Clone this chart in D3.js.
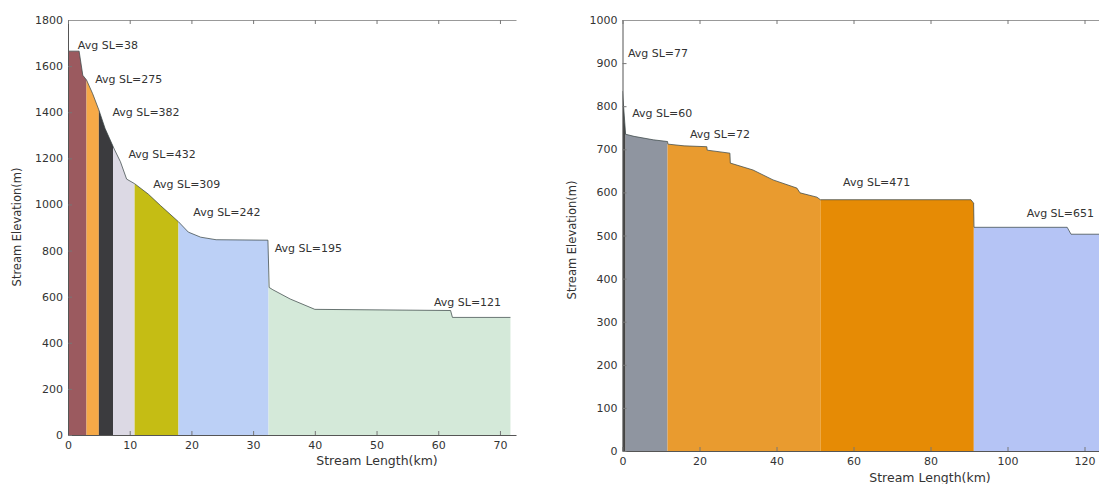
<!DOCTYPE html>
<html>
<head>
<meta charset="utf-8">
<script src="https://cdn.jsdelivr.net/npm/d3@7/dist/d3.min.js"></script>
<style>
  html, body { margin: 0; padding: 0; background: #ffffff; }
  svg { display: block; }
  text { font-family: "DejaVu Sans", "Liberation Sans", sans-serif; fill: #333; }
</style>
</head>
<body>
<svg id="chart" width="1099" height="484"></svg>
<script>
// ---------------- DATA ----------------
// Left panel: stream profile (distance km, elevation m)
const leftDist = [0, 1.8, 2.4, 3.0, 4.0, 5.0, 6.0, 7.5, 8.5, 9.5, 10.8, 13, 15, 17.9, 19.5, 21.5, 24, 32.4, 32.6, 33.2, 36, 40, 62, 62.3, 71.7];
const leftElev = [1665, 1665, 1560, 1540, 1480, 1410, 1330, 1240, 1185, 1110, 1090, 1045, 995, 925, 880, 858, 847, 845, 640, 630, 590, 545, 540, 510, 510];
const leftBreaks = [0, 3.0, 5.0, 7.3, 10.8, 17.9, 32.5, 71.7];
const leftLabels = ["Avg SL=38", "Avg SL=275", "Avg SL=382", "Avg SL=432", "Avg SL=309", "Avg SL=242", "Avg SL=195", "Avg SL=121"];
const leftLabelKm = [1.6, 4.4, 7.2, 9.8, 13.8, 20.3, 33.5, 59.3];
const leftLabelElev = [1674, 1526, 1383, 1201, 1071, 950, 794, 559];
const leftXTicks = [0, 10, 20, 30, 40, 50, 60, 70];
const leftYTicks = [0, 200, 400, 600, 800, 1000, 1200, 1400, 1600, 1800];

// Right panel
const rightDist = [0, 0.8, 3, 8, 11.7, 11.8, 16, 21.9, 22.0, 27.9, 28.0, 33.9, 39.1, 45.3, 46.1, 50.5, 51.4, 90.5, 91.2, 91.3, 115.5, 116.5, 130];
const rightElev = [835, 735, 730, 722, 718, 712, 708, 706, 698, 691, 668, 652, 629, 610, 599, 589, 583, 583, 575, 519, 519, 503, 503];
const rightBreaks = [0, 0.8, 11.7, 51.4, 91.25, 130];
const rightLabels = ["Avg SL=77", "Avg SL=60", "Avg SL=72", "Avg SL=471", "Avg SL=651"];
const rightLabelKm = [1.4, 2.5, 17.5, 57.3, 105];
const rightLabelElev = [914, 775, 726, 615, 543];
const rightXTicks = [0, 20, 40, 60, 80, 100, 120];
const rightYTicks = [0, 100, 200, 300, 400, 500, 600, 700, 800, 900, 1000];

// ---------------- STYLE ----------------
const leftColors = ["#9b5a5f", "#f6a947", "#3b3b3e", "#dcd9e4", "#c5bd14", "#bcd0f6", "#d4e9d9"];
const rightColors = ["#444444", "#8f95a0", "#e99b2f", "#e68b05", "#b5c4f5"];

const svg = d3.select("#chart");

function interp(dist, elev, x) {
  for (let i = 0; i < dist.length - 1; i++) {
    if (x >= dist[i] && x <= dist[i + 1]) {
      const t = dist[i + 1] === dist[i] ? 0 : (x - dist[i]) / (dist[i + 1] - dist[i]);
      return elev[i] + t * (elev[i + 1] - elev[i]);
    }
  }
  return elev[elev.length - 1];
}

function segmentPoints(dist, elev, a, b) {
  const pts = [[a, interp(dist, elev, a)]];
  dist.forEach((d, i) => { if (d > a && d < b) pts.push([d, elev[i]]); });
  pts.push([b, interp(dist, elev, b)]);
  return pts;
}

function drawPanel(cfg) {
  const g = svg.append("g");
  const x = d3.scaleLinear().domain(cfg.xDomain).range(cfg.xRange);
  const y = d3.scaleLinear().domain(cfg.yDomain).range(cfg.yRange);

  const clipId = "clip" + cfg.id;
  svg.append("clipPath").attr("id", clipId).append("rect")
    .attr("x", cfg.xRange[0]).attr("y", cfg.yRange[1])
    .attr("width", Math.min(cfg.xRange[1], 1099) - cfg.xRange[0])
    .attr("height", cfg.yRange[0] - cfg.yRange[1]);

  const plot = g.append("g").attr("clip-path", `url(#${clipId})`);
  const area = d3.area().x(d => x(d[0])).y0(y(0)).y1(d => y(d[1]));
  const line = d3.line().x(d => x(d[0])).y(d => y(d[1]));

  for (let i = 0; i < cfg.breaks.length - 1; i++) {
    const pts = segmentPoints(cfg.dist, cfg.elev, cfg.breaks[i], cfg.breaks[i + 1]);
    plot.append("path").attr("d", area(pts)).attr("fill", cfg.colors[i]);
  }
  const prof = cfg.dist.map((d, i) => [d, cfg.elev[i]]);
  plot.append("path").attr("d", line(prof)).attr("fill", "none")
    .attr("stroke", "#3e4a4a").attr("stroke-width", 1).attr("opacity", 0.75);

  // axes
  const fmt = d3.format("d");
  const xAxis = d3.axisBottom(x).tickValues(cfg.xTicks).tickFormat(fmt).tickSizeInner(-4).tickSizeOuter(0).tickPadding(6);
  const yAxis = d3.axisLeft(y).tickValues(cfg.yTicks).tickFormat(fmt).tickSizeInner(-4).tickSizeOuter(0).tickPadding(5);
  const xTop = d3.axisTop(x).tickValues(cfg.xTicks).tickSizeInner(-4).tickSizeOuter(0).tickFormat("");

  const gx = g.append("g").attr("transform", `translate(0,${cfg.yRange[0]})`).call(xAxis);
  const gy = g.append("g").attr("transform", `translate(${cfg.xRange[0]},0)`).call(yAxis);
  const gt = g.append("g").attr("transform", `translate(0,${cfg.yRange[1]})`).call(xTop);
  [gx, gy, gt].forEach(a => {
    a.selectAll("path").attr("stroke", "#555");
    a.selectAll("line").attr("stroke", "#777");
    a.selectAll("text").attr("font-size", 11).attr("fill", "#444")
      .attr("font-family", "DejaVu Sans, sans-serif");
  });
  gt.select("path").attr("stroke", "#999");

  // annotations
  cfg.labels.forEach((t, i) => {
    g.append("text").attr("x", x(cfg.labelKm[i])).attr("y", y(cfg.labelElev[i]))
      .attr("font-size", 11).attr("fill", "#333").text(t);
  });

  // axis titles
  g.append("text").attr("x", cfg.xTitle[0]).attr("y", cfg.xTitle[1])
    .attr("text-anchor", "middle").attr("font-size", 12.5).attr("fill", "#333")
    .text("Stream Length(km)");
  g.append("text")
    .attr("transform", `translate(${cfg.yTitle[0]},${cfg.yTitle[1]}) rotate(-90)`)
    .attr("text-anchor", "middle").attr("font-size", 11.5).attr("fill", "#333")
    .text("Stream Elevation(m)");
}

drawPanel({
  id: "L", dist: leftDist, elev: leftElev, breaks: leftBreaks, colors: leftColors,
  labels: leftLabels, labelKm: leftLabelKm, labelElev: leftLabelElev,
  xTicks: leftXTicks, yTicks: leftYTicks,
  xDomain: [0, 72.6], xRange: [68, 516], yDomain: [0, 1800], yRange: [435, 20],
  xTitle: [377, 465], yTitle: [21, 227]
});

drawPanel({
  id: "R", dist: rightDist, elev: rightElev, breaks: rightBreaks, colors: rightColors,
  labels: rightLabels, labelKm: rightLabelKm, labelElev: rightLabelElev,
  xTicks: rightXTicks, yTicks: rightYTicks,
  xDomain: [0, 130], xRange: [622.5, 1123], yDomain: [0, 1000], yRange: [451, 20],
  xTitle: [930, 482], yTitle: [576, 240]
});
</script>
</body>
</html>
